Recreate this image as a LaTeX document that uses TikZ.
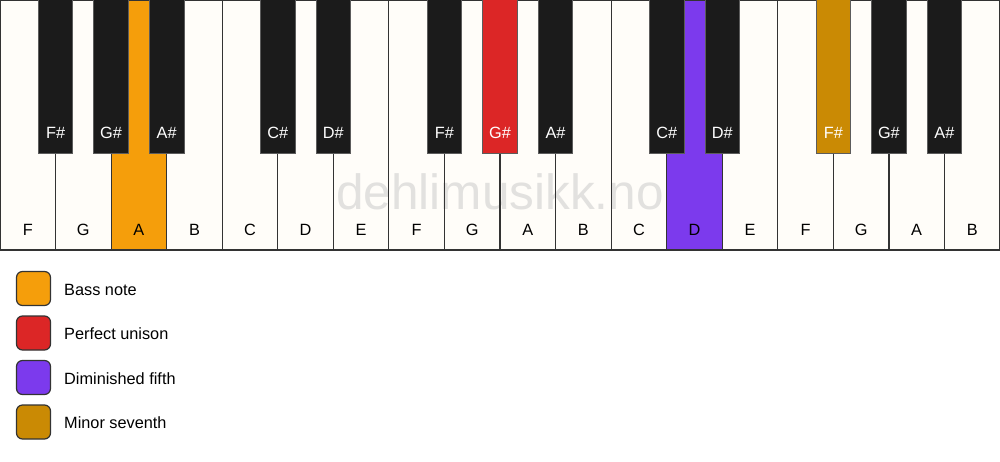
\documentclass[tikz,border=0pt]{standalone}
\usepackage{fontspec}
\setmainfont{Liberation Sans}
\definecolor{keywhite}{HTML}{FFFDF9}
\definecolor{keyblack}{HTML}{1B1B1B}
\definecolor{keyline}{HTML}{333333}
\definecolor{cbass}{HTML}{F59E0B}
\definecolor{cunison}{HTML}{DC2626}
\definecolor{cfifth}{HTML}{7C3AED}
\definecolor{cseventh}{HTML}{CA8A04}
\definecolor{wmark}{HTML}{E2E1DF}
\tikzset{
  whitekey/.style={fill=keywhite},
  whiteborder/.style={draw=keyline, line width=1.2pt},
  blackkey/.style={fill=keyblack, draw=keyline!80!white, line width=0.8pt},
  wlabel/.style={font=\fontsize{16.3}{18}\selectfont, text=black},
  blabel/.style={font=\fontsize{16.3}{18}\selectfont, text=white},
  legbox/.style={draw=keyline, line width=1.2pt, rounded corners=6pt, minimum width=34pt, minimum height=34pt, inner sep=0pt},
  legtext/.style={font=\fontsize{16.3}{18}\selectfont, anchor=west, inner sep=0pt}
}
\begin{document}
\begin{tikzpicture}[x=1pt,y=-1pt]
\useasboundingbox[fill=white] (0,0) rectangle (1000,461);
\def\ww{55.5556}
% white key fills
\foreach \i in {0,...,17} {
  \fill[whitekey] ({\i*\ww},0) rectangle ({(\i+1)*\ww},250);
}
\fill[cbass] ({2*\ww},0) rectangle ({3*\ww},250);
\fill[cfifth] ({12*\ww},0) rectangle ({13*\ww},250);
% watermark
\node[font=\fontsize{49.5}{52}\selectfont, text=wmark] (wm) at (500,192) {dehlimusikk.no};
% white key borders and labels
\foreach \n [count=\c from 0] in {F,G,A,B,C,D,E,F,G,A,B,C,D,E,F,G,A,B} {
  \draw[whiteborder] ({\c*\ww},0) rectangle ({(\c+1)*\ww},250);
  \node[wlabel] (w\c) at ({(\c+0.5)*\ww},230) {\n};
}
% black keys
\foreach \b/\n/\col in {1/F\#/keyblack,2/G\#/keyblack,3/A\#/keyblack,5/C\#/keyblack,6/D\#/keyblack,8/F\#/keyblack,9/G\#/cunison,10/A\#/keyblack,12/C\#/keyblack,13/D\#/keyblack,15/F\#/cseventh,16/G\#/keyblack,17/A\#/keyblack} {
  \filldraw[blackkey, fill=\col] ({\b*\ww-17.3},-1) rectangle ({\b*\ww+17.3},153);
  \node[blabel] (b\b) at ({\b*\ww},133) {\n};
}
% legend
\node[legbox, fill=cbass] (l1) at (33.5,288.5) {};
\node[legtext] (t1) at (64,289.5) {Bass note};
\node[legbox, fill=cunison] (l2) at (33.5,333) {};
\node[legtext] (t2) at (64,334) {Perfect unison};
\node[legbox, fill=cfifth] (l3) at (33.5,377.5) {};
\node[legtext] (t3) at (64,378.5) {Diminished fifth};
\node[legbox, fill=cseventh] (l4) at (33.5,422) {};
\node[legtext] (t4) at (64,423) {Minor seventh};
\end{tikzpicture}
\end{document}
